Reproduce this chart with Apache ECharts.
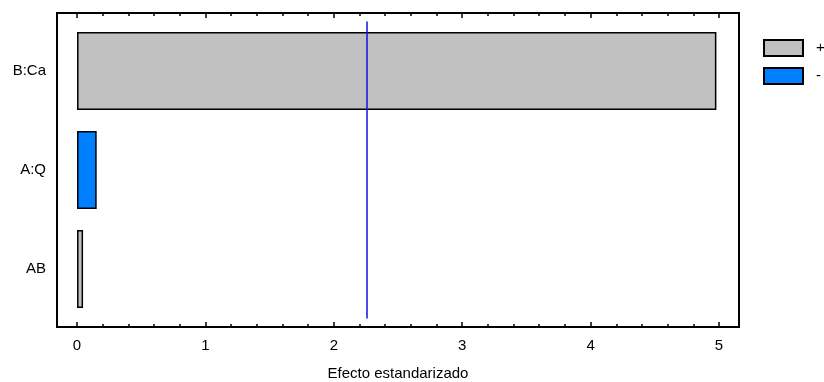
<!DOCTYPE html>
<html>
<head>
<meta charset="utf-8">
<script src="https://cdn.jsdelivr.net/npm/echarts@6/dist/echarts.min.js"></script>
<style>html,body{margin:0;padding:0;background:#fff}#c{width:824px;height:382px}</style>
</head>
<body>
<div id="c"></div>
<script>
// Data
var terms = ['B:Ca', 'A:Q', 'AB'];
var effects = [4.98, 0.153, 0.047];
var signs = ['+', '-', '+'];
var criticalValue = 2.262;
var xTicks = [0, 1, 2, 3, 4, 5];
var xMinorTicks = [0.2,0.4,0.6,0.8,1.2,1.4,1.6,1.8,2.2,2.4,2.6,2.8,3.2,3.4,3.6,3.8,4.2,4.4,4.6,4.8];
var xAxisName = 'Efecto estandarizado';
var legendNames = ['+', '-'];

var FONT = 'Liberation Sans, Arial, sans-serif';
var FS = 15;
var XMIN = -0.156, XMAX = 5.156;
var colors = { '+': '#c0c0c0', '-': '#0080ff' };

var cats = terms.slice().reverse();
var effRev = effects.slice().reverse();
var signRev = signs.slice().reverse();

function seriesFor(sign) {
  return cats.map(function (c, i) { return signRev[i] === sign ? effRev[i] : '-'; });
}

var chart = echarts.init(document.getElementById('c'), null, { renderer: 'canvas' });

function xAxisBase(pos, vals, len, withLabel, gridIndex) {
  return {
    type: 'value', gridIndex: gridIndex, position: pos, min: XMIN, max: XMAX,
    axisLine: { show: true, onZero: false, lineStyle: { color: 'rgba(0,0,0,0)' } },
    splitLine: { show: false },
    axisTick: { show: true, inside: true, length: len, customValues: vals, lineStyle: { color: '#000', width: 1.5 } },
    axisLabel: withLabel ? { show: true, customValues: xTicks, fontFamily: FONT, fontSize: FS, color: '#000', margin: 11 } : { show: false }
  };
}

var xAxes = [
  xAxisBase('bottom', xTicks, 5, true, 0),
  xAxisBase('bottom', xMinorTicks, 3, false, 0),
  xAxisBase('top', xTicks, 5, false, 0),
  xAxisBase('top', xMinorTicks, 3, false, 0),
  { type: 'value', gridIndex: 1, min: XMIN, max: XMAX, show: false }
];
xAxes[0].name = xAxisName;
xAxes[0].nameLocation = 'middle';
xAxes[0].nameGap = 39;
xAxes[0].nameTextStyle = { fontFamily: FONT, fontSize: FS, color: '#000' };

var option = {
  animation: false,
  backgroundColor: '#fff',
  grid: [
    { left: 57, right: 85, top: 13, bottom: 55, outerBoundsMode: 'none', containLabel: false, show: true, borderColor: '#000', borderWidth: 2, backgroundColor: 'transparent' },
    { left: 57, right: 85, top: 21.5, height: 297, outerBoundsMode: 'none', containLabel: false }
  ],
  legend: {
    orient: 'vertical', left: 763, top: 39, itemWidth: 39, itemHeight: 16, itemGap: 10, padding: 0,
    icon: 'rect',
    data: legendNames,
    textStyle: { fontFamily: FONT, fontSize: FS, color: '#000', padding: [0, 0, 0, 8] }
  },
  xAxis: xAxes,
  yAxis: [
    { type: 'value', gridIndex: 0, min: 0, max: 1, show: false },
    {
      type: 'category', gridIndex: 1, data: cats,
      axisLine: { show: false }, axisTick: { show: false },
      axisLabel: { fontFamily: FONT, fontSize: FS, color: '#000', margin: 11 }
    }
  ],
  series: [
    {
      name: '+', type: 'bar', xAxisIndex: 4, yAxisIndex: 1, stack: 'e',
      barWidth: 78, data: seriesFor('+'),
      itemStyle: { color: colors['+'], borderColor: '#000', borderWidth: 1.5 },
      markLine: {
        symbol: 'none', silent: true, label: { show: false },
        lineStyle: { color: '#1010e0', width: 1.5, type: 'solid' },
        data: [{ xAxis: criticalValue }]
      }
    },
    {
      name: '-', type: 'bar', xAxisIndex: 4, yAxisIndex: 1, stack: 'e',
      barWidth: 78, data: seriesFor('-'),
      itemStyle: { color: colors['-'], borderColor: '#000', borderWidth: 1.5 }
    }
  ]
};
chart.setOption(option);
</script>
</body>
</html>
